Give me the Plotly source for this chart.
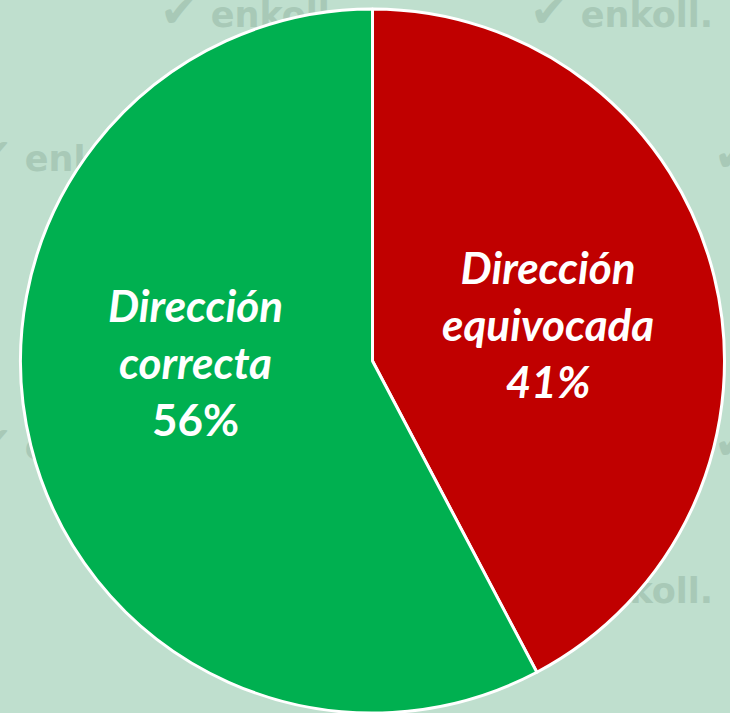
import plotly.graph_objects as go

# ---- data ----
labels = ["Dirección equivocada", "Dirección correcta"]
label_lines = [["Dirección", "equivocada"], ["Dirección", "correcta"]]
values = [41, 56]
colors = ["#C00000", "#00B050"]
pct_italic = [True, False]

W, H = 730, 713
BG = "#BFDFCE"
WM = "#A8C9B7"

fig = go.Figure()
fig.add_trace(go.Pie(
    labels=labels,
    values=values,
    sort=False,
    direction="clockwise",
    rotation=0,
    marker=dict(colors=colors, line=dict(color="white", width=3)),
    textinfo="none",
    hoverinfo="label+value",
    showlegend=False,
    domain=dict(x=[15 / W, 1], y=[0, 1 - 9 / H]),
))

# ---- labels ----
label_pos = [(548, 324), (195, 362)]
for i, (lines, v) in enumerate(zip(label_lines, values)):
    pct = f"{v}%"
    if pct_italic[i]:
        txt = "<i>" + "<br>".join(lines + [pct]) + "</i>"
    else:
        txt = "<i>" + "<br>".join(lines) + "</i><br>" + pct
    px, py = label_pos[i]
    fig.add_annotation(
        x=px / W, y=1 - py / H, xref="paper", yref="paper",
        text=txt, showarrow=False, xanchor="center", yanchor="middle",
        font=dict(family="Lato", size=44, color="white", weight="bold"),
        align="center",
    )

# ---- watermark (behind the pie) ----
rows = [25, 169, 313, 457, 601]
even_starts = [208, 578]
odd_starts = [22, 392, 762]
for r, base in enumerate(rows):
    starts = even_starts if r % 2 == 0 else odd_starts
    for s in starts:
        x0 = s - 51
        x1 = s + 150
        yc = base - 6
        fig.add_shape(
            type="rect", xref="paper", yref="paper",
            x0=x0 / W, x1=x1 / W, y0=1 - (yc + 20) / H, y1=1 - (yc - 20) / H,
            line=dict(width=0), fillcolor="rgba(0,0,0,0)", layer="below",
            label=dict(text="<b><span style='font-size:46px'>✔</span> enkoll.</b>",
                       textposition="middle left", padding=0,
                       font=dict(family="DejaVu Sans", size=35, color=WM)),
        )

fig.update_layout(
    width=W, height=H,
    margin=dict(l=0, r=0, t=0, b=0),
    paper_bgcolor=BG, plot_bgcolor=BG,
)
fig.write_html(
    "out.html",
    config={"displayModeBar": False},
    post_script="document.body.style.margin='0';document.body.style.overflow='hidden';",
)
